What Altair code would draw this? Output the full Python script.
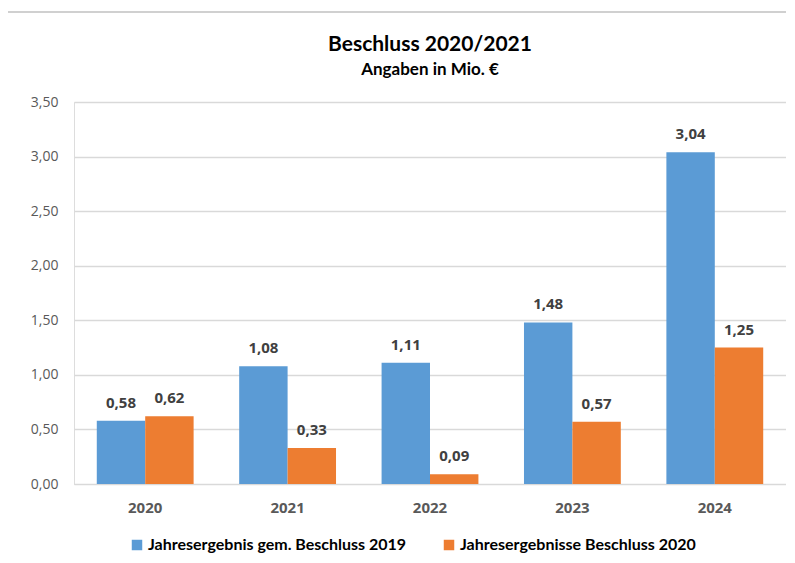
import altair as alt
import pandas as pd

years = ["2020", "2021", "2022", "2023", "2024"]
series_names = ["Jahresergebnis gem. Beschluss 2019", "Jahresergebnisse Beschluss 2020"]
values_2019 = [0.58, 1.08, 1.11, 1.48, 3.04]
values_2020 = [0.62, 0.33, 0.09, 0.57, 1.25]
colors = ["#5B9BD5", "#ED7D31"]

rows = []
for i, y in enumerate(years):
    rows.append({"Jahr": y, "Serie": series_names[0], "Wert": values_2019[i]})
    rows.append({"Jahr": y, "Serie": series_names[1], "Wert": values_2020[i]})
df = pd.DataFrame(rows)

label_font = "Open Sans"
title_font = "Lato"

xscale = alt.Scale(domain=years, paddingInner=0.32, paddingOuter=0.16)
x = alt.X("Jahr:N", scale=xscale, title=None,
          axis=alt.Axis(labelAngle=0, labelFont=label_font, labelFontWeight="bold",
                        labelFontSize=15, labelColor="#595959", labelPadding=16,
                        ticks=False, domainColor="#d9d9d9", domainWidth=1))
y = alt.Y("Wert:Q", scale=alt.Scale(domain=[0, 3.5], nice=False), title=None,
          axis=alt.Axis(values=[0, 0.5, 1, 1.5, 2, 2.5, 3, 3.5], format=".2f",
                        labelFont=label_font, labelFontSize=14, labelColor="#595959",
                        labelPadding=16, ticks=False, domain=False,
                        gridColor="#d9d9d9", gridWidth=1.3))
color = alt.Color("Serie:N", scale=alt.Scale(domain=series_names, range=colors),
                  legend=alt.Legend(title=None, orient="none", direction="horizontal",
                                    legendX=55, legendY=435, symbolType="square",
                                    symbolSize=110, symbolStrokeWidth=0,
                                    labelFont=title_font, labelFontSize=16,
                                    labelFontWeight="bold", labelColor="#000000",
                                    columnPadding=34, labelOffset=3, labelLimit=400))
xoff = alt.XOffset("Serie:N", scale=alt.Scale(domain=series_names, paddingInner=0, paddingOuter=0))

base = alt.Chart(df)
bars = base.mark_bar().encode(x=x, y=y, color=color, xOffset=xoff)
labels = base.mark_text(dy=-10, baseline="bottom", font=label_font, fontSize=15,
                        fontWeight="bold", color="#404040").encode(
    x=x, y=y, xOffset=xoff, text=alt.Text("Wert:Q", format=".2f"))

frame = alt.Chart(pd.DataFrame({"a": [0]})).mark_rect(
    fill=None, stroke="#d0d0d0", strokeWidth=2).encode(
    x=alt.value(-67), x2=alt.value(760), y=alt.value(-90), y2=alt.value(480))

chart = alt.layer(frame, bars, labels).properties(
    width=712, height=382,
    title=alt.TitleParams("Beschluss 2020/2021", subtitle="Angaben in Mio. €",
                          anchor="middle", font=title_font, fontSize=21,
                          fontWeight="bold", color="#000000",
                          subtitleFont=title_font, subtitleFontSize=17,
                          subtitleFontWeight="bold", subtitleColor="#000000",
                          subtitlePadding=7, offset=0, dy=67),
    autosize=alt.AutoSizeParams(type="none"),
    padding={"left": 66, "top": 94, "right": 0, "bottom": 71},
).configure_view(stroke=None).configure(
    locale={"number": {"decimal": ",", "thousands": ".", "grouping": [3], "currency": ["", " €"]}}
)

chart.save("out.html", embed_options={"renderer": "svg", "actions": False})
